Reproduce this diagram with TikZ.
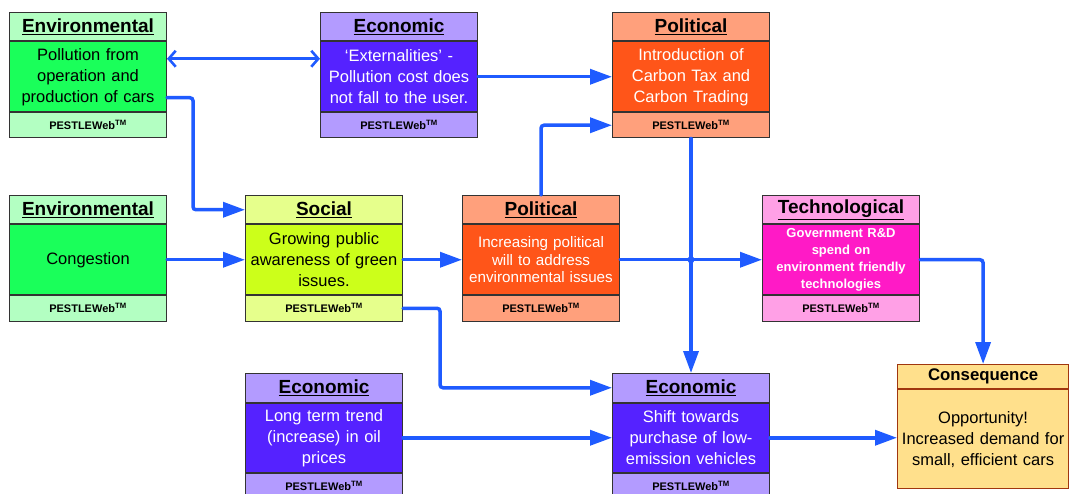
\documentclass[tikz,border=0pt]{standalone}
\usepackage{fontspec}
\setmainfont{Liberation Sans}
\usetikzlibrary{arrows.meta,calc}

\definecolor{envlight}{HTML}{B3FFC2}
\definecolor{envdark}{HTML}{1AFF5A}
\definecolor{ecolight}{HTML}{B39BFF}
\definecolor{ecodark}{HTML}{5522FF}
\definecolor{pollight}{HTML}{FFA07C}
\definecolor{poldark}{HTML}{FF5519}
\definecolor{soclight}{HTML}{E6FF8C}
\definecolor{socdark}{HTML}{CCFF1A}
\definecolor{teclight}{HTML}{FFA0E6}
\definecolor{tecdark}{HTML}{FF1AC6}
\definecolor{conslight}{HTML}{FFE08C}
\definecolor{consline}{HTML}{A0360F}
\definecolor{flowblue}{HTML}{1F5BFF}

\tikzset{
    boxpart/.style={draw=black!80, line width=1pt, minimum width=157pt, text width=155pt, inner sep=0pt, align=center},
    boxhead/.style={boxpart, minimum height=28.5pt, font=\fontsize{19}{22}\selectfont\bfseries},
    boxbody/.style={boxpart, minimum height=69.5pt},
    boxfoot/.style={boxpart, minimum height=25.5pt, font=\fontsize{11}{13}\selectfont\bfseries},
    bodytext/.style={font=\fontsize{16.5}{21}\selectfont},
    flow/.style={draw=flowblue, line width=3.5pt, line cap=round, rounded corners=3pt, -{Triangle[length=22pt,width=15pt]}},
    dblflow/.style={draw=flowblue, line width=2.6pt, line cap=round, {Straight Barb[length=7pt,width=16pt]}-{Straight Barb[length=7pt,width=16pt]}}
}

% name, x, y, title, body style, body, light colour, dark colour
\newcommand{\pestlebox}[8]{%
    \node[boxhead, fill=#7, anchor=north west] (#1-h) at (#2,#3) {\underline{#4}};
    \node[boxbody, fill=#8, anchor=north, #5] (#1-b) at (#1-h.south) {#6};
    \node[boxfoot, fill=#7, anchor=north] (#1-f) at (#1-b.south) {PESTLEWeb\textsuperscript{TM}};
}

\begin{document}
\begin{tikzpicture}[x=1pt, y=-1pt]
        \useasboundingbox (0,0) rectangle (1070,494);

        \pestlebox{env1}{9}{12}{Environmental}{bodytext}{Pollution from\\operation and\\production of cars}{envlight}{envdark}
        \pestlebox{eco1}{320}{12}{Economic}{bodytext, text=white}{‘Externalities’ -\\Pollution cost does\\not fall to the user.}{ecolight}{ecodark}
        \pestlebox{pol1}{612}{12}{Political}{bodytext, text=white}{Introduction of\\Carbon Tax and\\Carbon Trading}{pollight}{poldark}

        \pestlebox{env2}{9}{195}{Environmental}{bodytext}{Congestion}{envlight}{envdark}
        \pestlebox{soc}{245}{195}{Social}{bodytext}{Growing public\\awareness of green\\issues.}{soclight}{socdark}
        \pestlebox{pol2}{462}{195}{Political}{text=white, font=\fontsize{15.2}{17.5}\selectfont}{Increasing political\\will to address\\environmental issues}{pollight}{poldark}
        \pestlebox{tec}{762}{195}{Technological}{text=white, font=\fontsize{13}{17}\selectfont\bfseries}{Government R\&D\\spend on\\environment friendly\\technologies}{teclight}{tecdark}

        \pestlebox{eco2}{245}{373}{Economic}{bodytext, text=white}{Long term trend\\(increase) in oil\\prices}{ecolight}{ecodark}
        \pestlebox{eco3}{612}{373}{Economic}{bodytext, text=white}{Shift towards\\purchase of low-\\emission vehicles}{ecolight}{ecodark}

        \node[draw=consline, line width=1.2pt, fill=conslight, minimum width=171pt, minimum height=24pt, inner sep=0pt,
              font=\fontsize{16.8}{20}\selectfont\bfseries, anchor=north west] (cons-h) at (897,364) {Consequence};
        \node[draw=consline, line width=1.2pt, fill=conslight, minimum width=171pt, text width=169pt, minimum height=99pt,
              inner sep=0pt, align=center, bodytext, anchor=north] (cons-b) at (cons-h.south) {Opportunity!\\Increased demand for\\small, efficient cars};

        \draw[dblflow] ([yshift=18pt]env1-b.east) -- ([yshift=18pt]eco1-b.west);
        \draw[flow] ([yshift=-21pt]env1-b.east) -| ([xshift=-52pt]soc-h.west) -- (soc-h.west);
        \draw[flow] (eco1-b.east) -- (pol1-b.west);
        \draw[flow] (pol2-h.north) |- (pol1-f.west);
        \draw[flow] (pol1-f.south) -- (eco3-h.north);

        \draw[flow] (env2-b.east) -- (soc-b.west);
        \draw[flow] (soc-b.east) -- (pol2-b.west);
        \draw[flow] (pol2-b.east) -- (tec-b.west);
        \coordinate (junct) at (pol1-f.south |- pol2-b.east);
        \fill[flowblue] (junct) circle (3.5pt);
        \draw[flow] (tec-b.east) -| (cons-h.north);

        \draw[flow] (soc-f.east) -| ([xshift=-172pt]eco3-h.west) -- (eco3-h.west);
        \draw[flow] (eco2-b.east) -- (eco3-b.west);
        \draw[flow] (eco3-b.east) -- (cons-b.west |- eco3-b.east);

    \end{tikzpicture}
\end{document}
